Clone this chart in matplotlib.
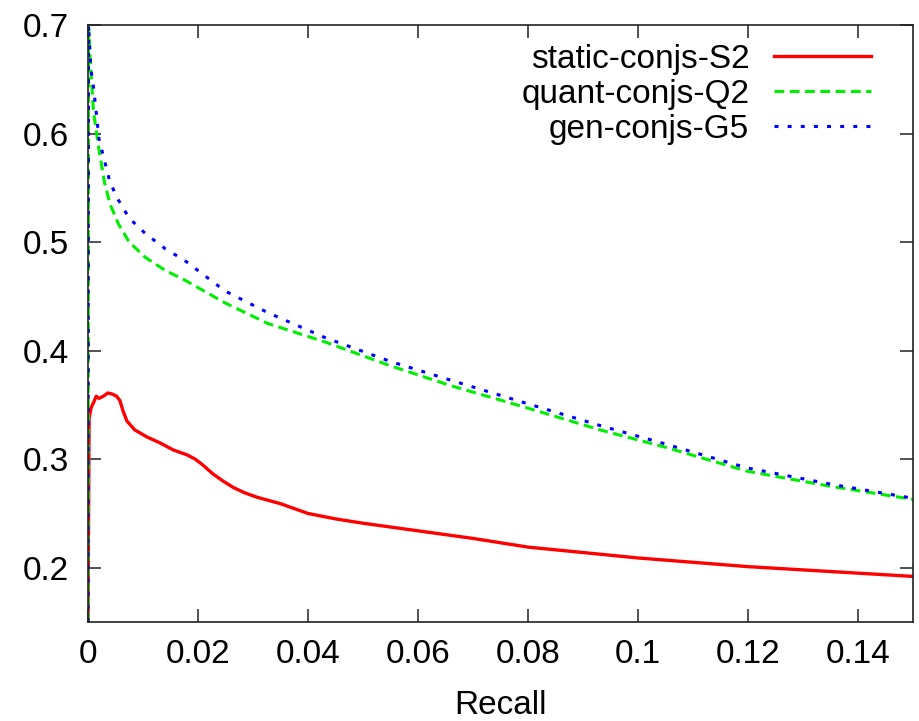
import matplotlib
matplotlib.use("agg")
import matplotlib.pyplot as plt

plt.rcParams["font.family"] = ["Liberation Sans", "DejaVu Sans"]

# precision vs recall
red_x = [0, 0.0002, 0.0006, 0.001, 0.0015, 0.002, 0.0028, 0.0036, 0.0044, 0.0052,
         0.0058, 0.0064, 0.0071, 0.0085, 0.0107, 0.0131, 0.0155, 0.018, 0.0195,
         0.0208, 0.0227, 0.0245, 0.0264, 0.0285, 0.0307, 0.035, 0.04, 0.045,
         0.05, 0.06, 0.07, 0.08, 0.09, 0.1, 0.11, 0.12, 0.13, 0.14, 0.15]
red_y = [0.15, 0.338, 0.348, 0.352, 0.358, 0.356, 0.358, 0.361, 0.360, 0.358,
         0.354, 0.344, 0.335, 0.327, 0.3205, 0.315, 0.3085, 0.304, 0.300,
         0.295, 0.2865, 0.280, 0.274, 0.269, 0.265, 0.259, 0.25, 0.245,
         0.241, 0.234, 0.227, 0.219, 0.214, 0.209, 0.205, 0.201, 0.198, 0.195, 0.192]

qg_x = [0, 0.0001, 0.0005, 0.001, 0.002, 0.003, 0.004, 0.0055, 0.0075, 0.0104,
        0.014, 0.0176, 0.0249, 0.0327, 0.0431, 0.055, 0.0658, 0.08, 0.0931,
        0.105, 0.1198, 0.135, 0.15]
green_y = [0.15, 0.70, 0.66, 0.62, 0.585, 0.555, 0.535, 0.517, 0.500, 0.486,
           0.474, 0.465, 0.444, 0.425, 0.408, 0.386, 0.368, 0.347, 0.327,
           0.311, 0.289, 0.275, 0.263]
blue_y = [0.15, 0.70, 0.66, 0.643, 0.595, 0.575, 0.555, 0.539, 0.522, 0.508,
          0.494, 0.483, 0.455, 0.435, 0.412, 0.39, 0.373, 0.351, 0.331,
          0.314, 0.292, 0.277, 0.264]

labels = ["static-conjs-S2", "quant-conjs-Q2", "gen-conjs-G5"]
xticks = [0, 0.02, 0.04, 0.06, 0.08, 0.1, 0.12, 0.14]
xticklabels = ["0", "0.02", "0.04", "0.06", "0.08", "0.1", "0.12", "0.14"]
yticks = [0.2, 0.3, 0.4, 0.5, 0.6, 0.7]

fig = plt.figure(figsize=(9.2, 7.21), dpi=100)
ax = fig.add_axes([88 / 920, 99 / 721, 825 / 920, 597 / 721])

ax.plot(red_x, red_y, color="#ff0000", lw=2.4, label=labels[0])
ax.plot(qg_x, green_y, color="#00ee00", lw=2.2, linestyle=(0, (3.2, 1.8)), label=labels[1])
ax.plot(qg_x, blue_y, color="#0000ff", lw=2.2, linestyle=(0, (1.3, 3.0)), label=labels[2])

ax.set_xlim(0, 0.15)
ax.set_ylim(0.15, 0.7)
ax.set_xticks(xticks)
ax.set_xticklabels(xticklabels)
ax.set_yticks(yticks)
ax.tick_params(direction="in", length=9.5, width=1.1, labelsize=24,
               top=True, right=True, color="#222222")
ax.tick_params(axis="y", pad=14)
ax.tick_params(axis="x", pad=12)
for s in ax.spines.values():
    s.set_linewidth(1.2)
    s.set_color("#222222")
ax.set_xlabel("Recall", fontsize=24, labelpad=15)

ax.legend(loc="upper right", bbox_to_anchor=(0.949, 0.968), frameon=False,
          markerfirst=False, fontsize=24, handlelength=2.9, handletextpad=0.75,
          labelspacing=0.12, borderpad=0, borderaxespad=0)

fig.savefig("out.png", dpi=100)
